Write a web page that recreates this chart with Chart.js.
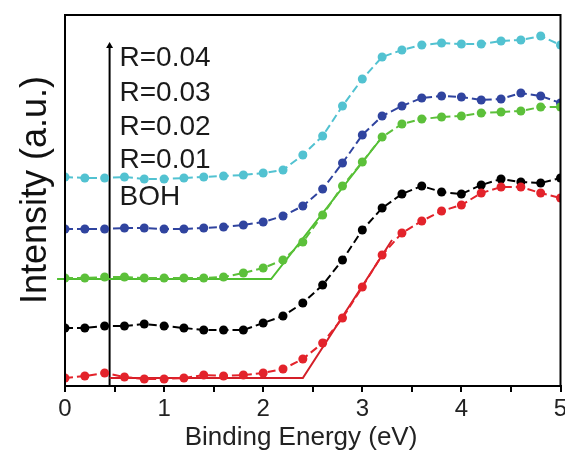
<!DOCTYPE html>
<html>
<head>
<meta charset="utf-8">
<script src="https://cdn.jsdelivr.net/npm/chart.js@4.4.1/dist/chart.umd.min.js"></script>
<style>
  html, body { margin: 0; padding: 0; background: #fff; }
  #wrap { width: 565px; height: 452px; }
</style>
</head>
<body>
<div id="wrap"><canvas id="chart" width="565" height="452"></canvas></div>
<script>
// energies 0 .. 5 eV, step 0.2
const energy = [0, 0.2, 0.4, 0.6, 0.8, 1.0, 1.2, 1.4, 1.6, 1.8, 2.0, 2.2, 2.4,
  2.6, 2.8, 3.0, 3.2, 3.4, 3.6, 3.8, 4.0, 4.2, 4.4, 4.6, 4.8, 5.0];

// intensity (arbitrary units, stacked curves)
const r004 = [209, 208, 208, 209, 207, 207, 208, 209, 210, 211, 213, 216, 231,
  250, 280, 307, 329, 336, 341, 343, 342, 342, 345, 346, 350, 341];
const r003 = [157, 157, 157, 158, 158, 157, 157, 158, 159, 161, 164, 170, 180,
  197, 223, 251, 270, 280, 288, 290, 289, 286, 287, 293, 290, 283];
const r002 = [108, 108, 109, 109, 108, 108, 108, 108, 109, 113, 118, 126, 144,
  171, 200, 224, 249, 262, 267, 269, 270, 273, 274, 275, 279, 279];
const r001 = [58, 58, 60, 60, 62, 60, 58, 56, 56, 56, 63, 70, 83,
  101, 126, 156, 178, 192, 200, 194, 192, 201, 207, 204, 203, 208];
const boh = [8, 10, 13, 9, 7, 7, 8, 11, 10, 11, 13, 17, 27,
  43, 68, 99, 131, 153, 165, 175, 181, 193, 199, 199, 193, 188];

// tangent lines for the band edge
const r002FitX = [-0.08, 2.08, 3.2];
const r002FitY = [107, 107, 249];
const bohFitX = [0.45, 2.4, 3.3];
const bohFitY = [8, 8, 146];

// arrow and labels
const arrowX = [0.45, 0.45];
const arrowY = [0, 340];
const labelTexts = ['R=0.04', 'R=0.03', 'R=0.02', 'R=0.01', 'BOH'];
const labelY = [328, 293, 259, 226, 189];
const labelX = 0.55;

const xTicks = [0, 1, 2, 3, 4, 5];
const xTitle = 'Binding Energy (eV)';
const yTitle = 'Intensity (a.u.)';

function pts(xs, ys) {
  return xs.map((x, i) => ({x: x, y: ys[i]}));
}

function curve(ys, color) {
  return {
    data: pts(energy, ys),
    borderColor: color,
    backgroundColor: color,
    borderWidth: 2,
    borderDash: [8, 4],
    pointRadius: 4.5,
    pointHoverRadius: 4.5,
    pointBorderWidth: 0,
    tension: 0
  };
}

function fit(xs, ys, color) {
  return {
    data: pts(xs, ys),
    borderColor: color,
    borderWidth: 2,
    pointRadius: 0,
    tension: 0,
    clip: false
  };
}

const font = 'Liberation Sans, Arial, sans-serif';

// frame, titles, labels
const extras = {
  id: 'extras',
  afterDraw(chart) {
    const ctx = chart.ctx;
    const a = chart.chartArea;
    const xs = chart.scales.x, ys = chart.scales.y;
    ctx.save();
    ctx.strokeStyle = '#000';
    ctx.lineWidth = 2;
    ctx.strokeRect(a.left, a.top, a.right - a.left, a.bottom - a.top);

    ctx.fillStyle = '#1a1a1a';
    ctx.font = '28px ' + font;
    ctx.textBaseline = 'middle';
    ctx.textAlign = 'left';
    labelTexts.forEach((t, i) => {
      ctx.fillText(t, xs.getPixelForValue(labelX), ys.getPixelForValue(labelY[i]));
    });

    ctx.fillStyle = '#222';
    ctx.font = '26px ' + font;
    ctx.textAlign = 'center';
    ctx.textBaseline = 'alphabetic';
    ctx.fillText(xTitle, 301, 445);

    ctx.fillStyle = '#111';
    ctx.font = '36px ' + font;
    ctx.translate(46, 190);
    ctx.rotate(-Math.PI / 2);
    ctx.textBaseline = 'alphabetic';
    ctx.fillText(yTitle, 0, 0);
    ctx.restore();
  }
};

new Chart(document.getElementById('chart'), {
  type: 'line',
  data: {
    datasets: [
      curve(boh, '#e3232b'),
      curve(r001, '#000000'),
      curve(r002, '#5cc03a'),
      curve(r003, '#30449f'),
      curve(r004, '#52c2d1'),
      fit(r002FitX, r002FitY, '#4fbf30'),
      fit(bohFitX, bohFitY, '#d41f28'),
      {
        data: pts(arrowX, arrowY),
        borderColor: '#000',
        backgroundColor: '#000',
        borderWidth: 2,
        pointStyle: 'triangle',
        pointRadius: [0, 4],
        pointBorderWidth: 0
      }
    ]
  },
  options: {
    responsive: false,
    animation: false,
    layout: {padding: {top: 15, right: 3, left: 0, bottom: 0}},
    plugins: {legend: {display: false}, tooltip: {enabled: false}},
    scales: {
      x: {
        type: 'linear',
        min: 0,
        max: 5,
        afterBuildTicks(scale) {
          const t = [];
          for (let v = 0; v <= 5; v += 0.5) t.push({value: v});
          scale.ticks = t;
        },
        afterFit(scale) {
          scale.height = 66;
          scale.paddingLeft = 0;
          scale.paddingRight = 0;
        },
        ticks: {
          autoSkip: false,
          maxRotation: 0,
          padding: 3,
          color: '#222',
          font: {family: font, size: 24},
          callback: v => (xTicks.includes(v) ? String(v) : '')
        },
        grid: {
          drawOnChartArea: false,
          drawTicks: true,
          tickLength: 6,
          color: '#000',
          lineWidth: 2
        },
        border: {display: true, color: '#000', width: 2},
        title: {display: false}
      },
      y: {
        min: 0,
        max: 371,
        afterFit(scale) {
          scale.width = 65;
          scale.paddingTop = 0;
          scale.paddingBottom = 0;
        },
        ticks: {display: false},
        grid: {display: false},
        border: {display: true, color: '#000', width: 2},
        title: {display: false}
      }
    }
  },
  plugins: [extras]
});
</script>
</body>
</html>
